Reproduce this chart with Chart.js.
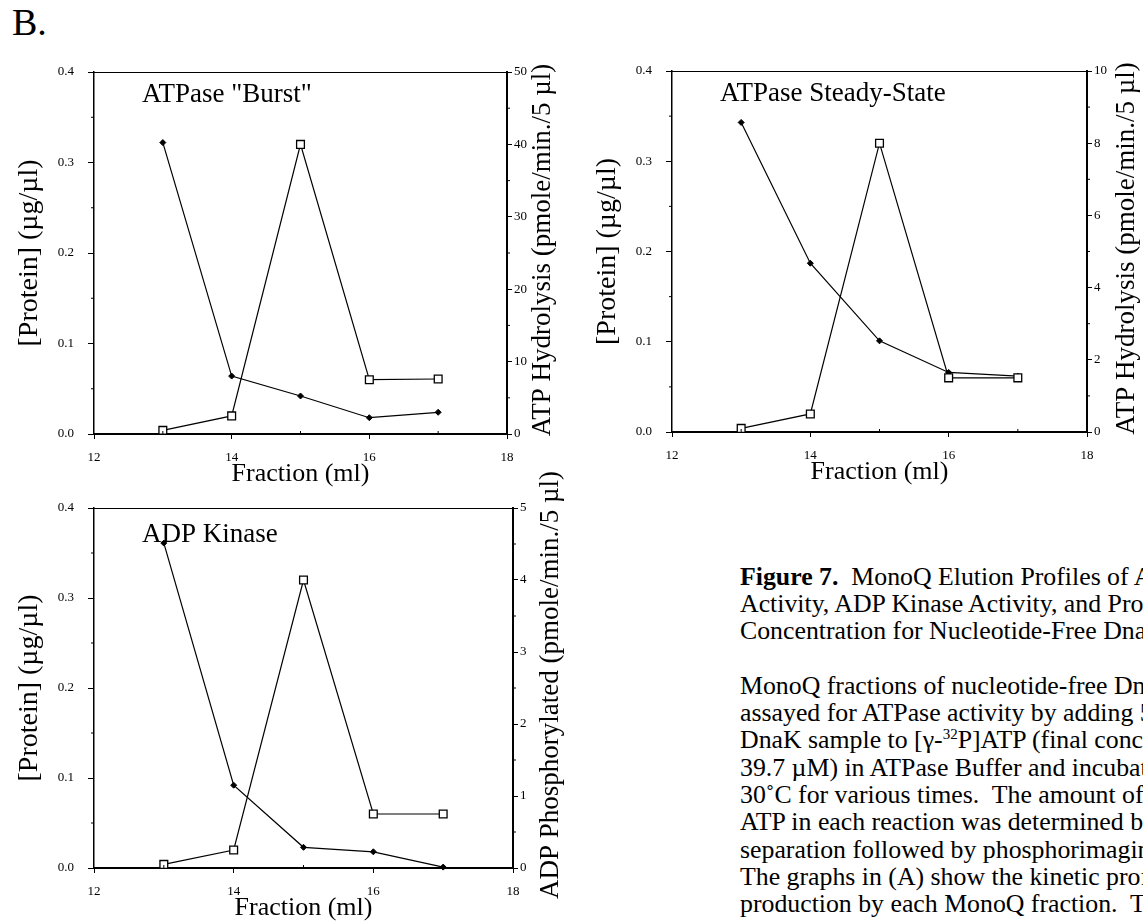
<!DOCTYPE html>
<html>
<head>
<meta charset="utf-8">
<script src="https://cdn.jsdelivr.net/npm/chart.js@4/dist/chart.umd.min.js"></script>
<style>
  html, body { margin: 0; padding: 0; background: #fff; }
  body { width: 1143px; height: 922px; overflow: hidden; position: relative; font-family: "Liberation Serif", "Times New Roman", serif; color: #000; }
  canvas { position: absolute; }
  #letter { position: absolute; left: 12px; top: -1px; font-size: 38px; line-height: 46px; }
  .cap { position: absolute; left: 740px; font-size: 25.8px; line-height: 27.3px; white-space: nowrap; }
  .sup { font-size: 15px; position: relative; top: -9px; }
</style>
</head>
<body>
<div id="letter">B.</div>

<canvas id="burst" width="575" height="460" style="left:0px;top:40px"></canvas>
<canvas id="steady" width="573" height="460" style="left:570px;top:40px"></canvas>
<canvas id="kinase" width="575" height="467" style="left:0px;top:455px"></canvas>

<div class="cap" style="top:562.5px"><b>Figure 7.</b>&nbsp; MonoQ Elution Profiles of ATPase</div>
<div class="cap" style="top:589.8px">Activity, ADP Kinase Activity, and Protein</div>
<div class="cap" style="top:617.1px">Concentration for Nucleotide-Free DnaK.</div>
<div class="cap" style="top:671.7px">MonoQ fractions of nucleotide-free DnaK were</div>
<div class="cap" style="top:699px">assayed for ATPase activity by adding 5 µl</div>
<div class="cap" style="top:726.3px">DnaK sample to [γ-<span class="sup">32</span>P]ATP (final concentration</div>
<div class="cap" style="top:753.6px">39.7 µM) in ATPase Buffer and incubating at</div>
<div class="cap" style="top:780.9px">30˚C for various times.&nbsp; The amount of free</div>
<div class="cap" style="top:808.2px">ATP in each reaction was determined by TLC</div>
<div class="cap" style="top:835.5px">separation followed by phosphorimaging.</div>
<div class="cap" style="top:862.8px">The graphs in (A) show the kinetic profiles</div>
<div class="cap" style="top:890.1px">production by each MonoQ fraction.&nbsp; The</div>

<script>
// MonoQ fractions (ml)
const fractions = [13, 14, 15, 16, 17];
const xTicks = [12, 14, 16, 18];
const proteinTicks = [0, 0.1, 0.2, 0.3, 0.4];

// ATPase "Burst"
const burstProtein = [0.322, 0.064, 0.042, 0.018, 0.024];
const burstActivity = [0.5, 2.5, 40, 7.5, 7.6];
const burstTicks = [0, 10, 20, 30, 40, 50];

// ATPase Steady-State
const steadyProtein = [0.343, 0.187, 0.101, 0.066, 0.062];
const steadyActivity = [0.1, 0.5, 8.0, 1.5, 1.5];
const steadyTicks = [0, 2, 4, 6, 8, 10];

// ADP Kinase
const kinaseProtein = [0.361, 0.092, 0.023, 0.018, 0.001];
const kinaseActivity = [0.05, 0.25, 4.0, 0.75, 0.75];
const kinaseTicks = [0, 1, 2, 3, 4, 5];

const FONT = '"Liberation Serif", "Times New Roman", serif';

// frame top line, minor ticks, titles and the label inside the plot
const decor = {
  id: 'decor',
  afterDraw(chart, args, o) {
    const {ctx, chartArea: a, scales} = chart;
    ctx.save();
    ctx.strokeStyle = '#000';
    ctx.fillStyle = '#000';

    ctx.lineWidth = 1;
    ctx.beginPath();
    ctx.moveTo(a.left, a.top + 0.5);
    ctx.lineTo(a.right, a.top + 0.5);
    ctx.stroke();

    const minor = (scale, draw) => {
      const t = scale.ticks;
      for (let i = 0; i < t.length - 1; i++) {
        draw(scale.getPixelForValue((t[i].value + t[i + 1].value) / 2));
      }
    };
    ctx.beginPath();
    minor(scales.y, p => { ctx.moveTo(a.left - 3, p); ctx.lineTo(a.left, p); });
    minor(scales.y1, p => { ctx.moveTo(a.right, p); ctx.lineTo(a.right + 3, p); });
    minor(scales.x, p => { ctx.moveTo(p, a.bottom); ctx.lineTo(p, a.bottom - 3); });
    ctx.stroke();

    const midY = (a.top + a.bottom) / 2;
    ctx.textAlign = 'center';
    ctx.textBaseline = 'middle';
    ctx.font = '28px ' + FONT;
    ctx.save();
    ctx.translate(a.left - 64, midY);
    ctx.rotate(-Math.PI / 2);
    ctx.fillText(o.left, 0, 0);
    ctx.restore();
    ctx.font = '27px ' + FONT;
    ctx.save();
    ctx.translate(a.right + o.rightDx, midY - 3);
    ctx.rotate(-Math.PI / 2);
    ctx.fillText(o.right, 0, 0);
    ctx.restore();
    ctx.font = '26px ' + FONT;
    ctx.fillText(o.bottom, (a.left + a.right) / 2, a.bottom + 40);

    ctx.font = '27px ' + FONT;
    ctx.textAlign = 'left';
    ctx.textBaseline = 'alphabetic';
    ctx.fillText(o.label, a.left + 48, a.top + o.labelDy);
    ctx.restore();
  }
};

function setTicks(values) {
  return scale => { scale.ticks = values.map(v => ({value: v})); };
}

function makeChart(id, box, plot, text, protein, activity, rightTicks) {
  const tickFont = {family: FONT, size: 13};
  new Chart(document.getElementById(id), {
    type: 'line',
    data: {
      datasets: [
        {
          label: 'Activity',
          data: fractions.map((f, i) => ({x: f, y: activity[i]})),
          yAxisID: 'y1',
          borderColor: '#000',
          borderWidth: 1.2,
          pointStyle: 'rect',
          pointRadius: 5.5,
          pointBackgroundColor: '#fff',
          pointBorderColor: '#000',
          pointBorderWidth: 1.3,
          clip: false,
          order: 0
        },
        {
          label: 'Protein',
          data: fractions.map((f, i) => ({x: f, y: protein[i]})),
          yAxisID: 'y',
          borderColor: '#000',
          borderWidth: 1.2,
          pointStyle: 'rectRot',
          pointRadius: 3,
          pointBackgroundColor: '#000',
          pointBorderColor: '#000',
          pointBorderWidth: 1,
          clip: false,
          order: 1
        }
      ]
    },
    options: {
      responsive: false,
      animation: false,
      devicePixelRatio: 1,
      layout: {padding: {top: plot.t - box.top, left: 0, right: 0, bottom: 0}},
      plugins: {
        legend: {display: false},
        tooltip: {enabled: false},
        decor: Object.assign({left: '[Protein] (µg/µl)', bottom: 'Fraction (ml)'}, text)
      },
      scales: {
        x: {
          type: 'linear',
          min: xTicks[0],
          max: xTicks[xTicks.length - 1],
          afterBuildTicks: setTicks(xTicks),
          afterFit: s => { s.height = box.top + box.h - plot.b; },
          grid: {drawOnChartArea: false, drawTicks: true, tickLength: 5, color: '#000'},
          border: {display: true, color: '#000', width: 2},
          ticks: {font: tickFont, color: '#000', padding: 11, maxRotation: 0}
        },
        y: {
          position: 'left',
          min: proteinTicks[0],
          max: proteinTicks[proteinTicks.length - 1],
          afterBuildTicks: setTicks(proteinTicks),
          afterFit: s => { s.width = plot.l - box.left; },
          grid: {drawOnChartArea: false, drawTicks: true, tickLength: 6, color: '#000'},
          border: {display: true, color: '#000', width: 1.5},
          ticks: {font: tickFont, color: '#000', padding: 14, callback: v => v.toFixed(1)}
        },
        y1: {
          position: 'right',
          min: rightTicks[0],
          max: rightTicks[rightTicks.length - 1],
          afterBuildTicks: setTicks(rightTicks),
          afterFit: s => { s.width = box.left + box.w - plot.r; },
          grid: {drawOnChartArea: false, drawTicks: true, tickLength: 5, color: '#000'},
          border: {display: true, color: '#000', width: 2},
          ticks: {font: tickFont, color: '#000', padding: 2, callback: v => String(v)}
        }
      }
    },
    plugins: [decor]
  });
}

makeChart('burst', {left: 0, top: 40, w: 575, h: 460}, {l: 94, t: 72, r: 507, b: 434},
  {label: 'ATPase "Burst"', labelDy: 30, right: 'ATP Hydrolysis (pmole/min./5 µl)', rightDx: 36},
  burstProtein, burstActivity, burstTicks);
makeChart('steady', {left: 570, top: 40, w: 573, h: 460}, {l: 672, t: 71, r: 1087, b: 432},
  {label: 'ATPase Steady-State', labelDy: 30, right: 'ATP Hydrolysis (pmole/min./5 µl)', rightDx: 40},
  steadyProtein, steadyActivity, steadyTicks);
makeChart('kinase', {left: 0, top: 455, w: 575, h: 467}, {l: 94, t: 508, r: 513, b: 868},
  {label: 'ADP Kinase', labelDy: 34, right: 'ADP Phosphorylated (pmole/min./5 µl)', rightDx: 38},
  kinaseProtein, kinaseActivity, kinaseTicks);
</script>
</body>
</html>
